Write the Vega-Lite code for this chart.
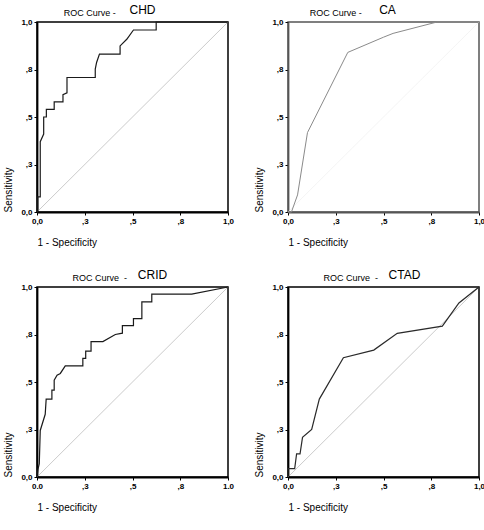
{
"$schema": "https://vega.github.io/schema/vega-lite/v6.json",
"padding": {"left": 3, "top": 3, "right": 5, "bottom": 5},
"background": "white",
"datasets": {
"diag": [{"i":0,"fpr":0,"sens":0},{"i":1,"fpr":1,"sens":1}],
"chd": [{"i":0,"fpr":0,"sens":0},{"i":1,"fpr":0.004,"sens":0.0},{"i":2,"fpr":0.004,"sens":0.08},{"i":3,"fpr":0.017,"sens":0.08},{"i":4,"fpr":0.017,"sens":0.37},{"i":5,"fpr":0.035,"sens":0.41},{"i":6,"fpr":0.035,"sens":0.5},{"i":7,"fpr":0.049,"sens":0.5},{"i":8,"fpr":0.049,"sens":0.54},{"i":9,"fpr":0.09,"sens":0.54},{"i":10,"fpr":0.09,"sens":0.58},{"i":11,"fpr":0.136,"sens":0.58},{"i":12,"fpr":0.136,"sens":0.618},{"i":13,"fpr":0.157,"sens":0.627},{"i":14,"fpr":0.157,"sens":0.708},{"i":15,"fpr":0.305,"sens":0.708},{"i":16,"fpr":0.305,"sens":0.752},{"i":17,"fpr":0.312,"sens":0.787},{"i":18,"fpr":0.327,"sens":0.831},{"i":19,"fpr":0.435,"sens":0.831},{"i":20,"fpr":0.435,"sens":0.874},{"i":21,"fpr":0.47,"sens":0.909},{"i":22,"fpr":0.505,"sens":0.958},{"i":23,"fpr":0.624,"sens":0.958},{"i":24,"fpr":0.624,"sens":1},{"i":25,"fpr":1,"sens":1}],
"ca": [{"i":0,"fpr":0,"sens":0},{"i":1,"fpr":0.018,"sens":0},{"i":2,"fpr":0.05,"sens":0.09},{"i":3,"fpr":0.102,"sens":0.418},{"i":4,"fpr":0.313,"sens":0.84},{"i":5,"fpr":0.5,"sens":0.92},{"i":6,"fpr":0.55,"sens":0.94},{"i":7,"fpr":0.78,"sens":1},{"i":8,"fpr":1,"sens":1}],
"crid": [{"i":0,"fpr":0,"sens":0},{"i":1,"fpr":0.005,"sens":0.04},{"i":2,"fpr":0.012,"sens":0.07},{"i":3,"fpr":0.017,"sens":0.245},{"i":4,"fpr":0.043,"sens":0.33},{"i":5,"fpr":0.048,"sens":0.41},{"i":6,"fpr":0.078,"sens":0.41},{"i":7,"fpr":0.078,"sens":0.457},{"i":8,"fpr":0.09,"sens":0.457},{"i":9,"fpr":0.09,"sens":0.51},{"i":10,"fpr":0.105,"sens":0.536},{"i":11,"fpr":0.122,"sens":0.545},{"i":12,"fpr":0.148,"sens":0.585},{"i":13,"fpr":0.24,"sens":0.585},{"i":14,"fpr":0.24,"sens":0.624},{"i":15,"fpr":0.255,"sens":0.624},{"i":16,"fpr":0.255,"sens":0.663},{"i":17,"fpr":0.283,"sens":0.663},{"i":18,"fpr":0.283,"sens":0.713},{"i":19,"fpr":0.345,"sens":0.713},{"i":20,"fpr":0.41,"sens":0.75},{"i":21,"fpr":0.447,"sens":0.757},{"i":22,"fpr":0.447,"sens":0.797},{"i":23,"fpr":0.505,"sens":0.797},{"i":24,"fpr":0.505,"sens":0.834},{"i":25,"fpr":0.549,"sens":0.834},{"i":26,"fpr":0.549,"sens":0.922},{"i":27,"fpr":0.601,"sens":0.922},{"i":28,"fpr":0.601,"sens":0.963},{"i":29,"fpr":0.81,"sens":0.963},{"i":30,"fpr":1,"sens":1}],
"ctad": [{"i":0,"fpr":0,"sens":0},{"i":1,"fpr":0,"sens":0.044},{"i":2,"fpr":0.035,"sens":0.044},{"i":3,"fpr":0.045,"sens":0.122},{"i":4,"fpr":0.063,"sens":0.122},{"i":5,"fpr":0.076,"sens":0.209},{"i":6,"fpr":0.124,"sens":0.25},{"i":7,"fpr":0.164,"sens":0.41},{"i":8,"fpr":0.29,"sens":0.628},{"i":9,"fpr":0.449,"sens":0.668},{"i":10,"fpr":0.572,"sens":0.756},{"i":11,"fpr":0.808,"sens":0.794},{"i":12,"fpr":0.895,"sens":0.916},{"i":13,"fpr":1,"sens":1}]
},
"spacing": 20,
"vconcat": [
{"hconcat": [
 {"title": {"text": "ROC Curve -", "fontSize": 9, "dx": -29, "offset": -15},
  "vconcat": [{
   "title": {"text": "CHD", "fontSize": 12, "dx": 10, "offset": 1},
   "width": 191, "height": 190,
   "encoding": {
    "x": {"field": "fpr", "type": "quantitative", "scale": {"domain": [0, 1]}, "axis": {"title": "1 - Specificity", "values": [0, 0.25, 0.5, 0.75, 1], "labelExpr": "datum.value == 0 ? '0,0' : datum.value == 1 ? '1,0' : datum.value == 0.5 ? ',5' : datum.value < 0.5 ? ',3' : ',8'"}},
    "y": {"field": "sens", "type": "quantitative", "scale": {"domain": [0, 1]}, "axis": {"title": "Sensitivity", "values": [0, 0.25, 0.5, 0.75, 1], "labelExpr": "datum.value == 0 ? '0,0' : datum.value == 1 ? '1,0' : datum.value == 0.5 ? ',5' : datum.value < 0.5 ? ',3' : ',8'"}},
    "order": {"field": "i", "type": "quantitative"}
   },
   "layer": [
    {"data": {"name": "diag"}, "mark": {"type": "line", "color": "#a8a8a8", "strokeWidth": 0.6}},
    {"data": {"name": "chd"}, "mark": {"type": "line", "color": "#1a1a1a", "strokeWidth": 1.2}}
   ]
  }]
 },
 {"title": {"text": "ROC Curve -", "fontSize": 9, "dx": -34, "offset": -15},
  "vconcat": [{
   "title": {"text": "CA", "fontSize": 12, "dx": 4, "offset": 1},
   "width": 191, "height": 190,
   "view": {"stroke": "#555"},
   "encoding": {
    "x": {"field": "fpr", "type": "quantitative", "scale": {"domain": [0, 1]}, "axis": {"title": "1 - Specificity", "values": [0, 0.25, 0.5, 0.75, 1], "domainColor": "#555", "labelExpr": "datum.value == 0 ? '0,0' : datum.value == 1 ? '1,0' : datum.value == 0.5 ? ',5' : datum.value < 0.5 ? ',3' : ',8'"}},
    "y": {"field": "sens", "type": "quantitative", "scale": {"domain": [0, 1]}, "axis": {"title": "Sensitivity", "values": [0, 0.25, 0.5, 0.75, 1], "domainColor": "#555", "labelExpr": "datum.value == 0 ? '0,0' : datum.value == 1 ? '1,0' : datum.value == 0.5 ? ',5' : datum.value < 0.5 ? ',3' : ',8'"}},
    "order": {"field": "i", "type": "quantitative"}
   },
   "layer": [
    {"data": {"name": "diag"}, "mark": {"type": "line", "color": "#ececec", "strokeWidth": 0.6}},
    {"data": {"name": "ca"}, "mark": {"type": "line", "color": "#8a8a8a", "strokeWidth": 1}}
   ]
  }]
 }
], "spacing": 19},
{"hconcat": [
 {"title": {"text": "ROC Curve \u00a0-", "fontSize": 9, "dx": -19, "offset": -15},
  "vconcat": [{
   "title": {"text": "CRID", "fontSize": 12, "dx": 20, "offset": 1},
   "width": 191, "height": 190,
   "encoding": {
    "x": {"field": "fpr", "type": "quantitative", "scale": {"domain": [0, 1]}, "axis": {"title": "1 - Specificity", "values": [0, 0.25, 0.5, 0.75, 1], "labelExpr": "datum.value == 0 ? '0.0' : datum.value == 1 ? '1.0' : datum.value == 0.5 ? ',5' : datum.value < 0.5 ? ',3' : ',8'"}},
    "y": {"field": "sens", "type": "quantitative", "scale": {"domain": [0, 1]}, "axis": {"title": "Sensitivity", "values": [0, 0.25, 0.5, 0.75, 1], "labelExpr": "datum.value == 0 ? '0,0' : datum.value == 1 ? '1,0' : datum.value == 0.5 ? ',5' : datum.value < 0.5 ? ',3' : ',8'"}},
    "order": {"field": "i", "type": "quantitative"}
   },
   "layer": [
    {"data": {"name": "diag"}, "mark": {"type": "line", "color": "#a8a8a8", "strokeWidth": 0.6}},
    {"data": {"name": "crid"}, "mark": {"type": "line", "color": "#1a1a1a", "strokeWidth": 1.2}}
   ]
  }]
 },
 {"title": {"text": "ROC Curve \u00a0-", "fontSize": 9, "dx": -19, "offset": -15},
  "vconcat": [{
   "title": {"text": "CTAD", "fontSize": 12, "dx": 21, "offset": 1},
   "width": 191, "height": 190,
   "encoding": {
    "x": {"field": "fpr", "type": "quantitative", "scale": {"domain": [0, 1]}, "axis": {"title": "1 - Specificity", "values": [0, 0.25, 0.5, 0.75, 1], "labelExpr": "datum.value == 0 ? '0,0' : datum.value == 1 ? '1,0' : datum.value == 0.5 ? ',5' : datum.value < 0.5 ? ',3' : ',8'"}},
    "y": {"field": "sens", "type": "quantitative", "scale": {"domain": [0, 1]}, "axis": {"title": "Sensitivity", "values": [0, 0.25, 0.5, 0.75, 1], "labelExpr": "datum.value == 0 ? '0,0' : datum.value == 1 ? '1,0' : datum.value == 0.5 ? ',5' : datum.value < 0.5 ? ',3' : ',8'"}},
    "order": {"field": "i", "type": "quantitative"}
   },
   "layer": [
    {"data": {"name": "diag"}, "mark": {"type": "line", "color": "#a8a8a8", "strokeWidth": 0.6}},
    {"data": {"name": "ctad"}, "mark": {"type": "line", "color": "#2a2a2a", "strokeWidth": 1.2}}
   ]
  }]
 }
], "spacing": 19}
],
"config": {
 "font": "Liberation Sans",
 "view": {"stroke": "#000", "strokeWidth": 1.5},
 "title": {"font": "Liberation Sans", "fontWeight": "normal", "color": "#000", "anchor": "middle"},
 "axis": {"labelFont": "Liberation Sans", "labelFontSize": 8, "labelColor": "#000", "labelFontWeight": "bold", "titleFont": "Liberation Sans", "titleFontSize": 10, "titleFontWeight": "normal", "titleColor": "#000", "grid": false, "domainColor": "#000", "domainWidth": 1.8, "tickColor": "#000", "tickSize": 3, "labelPadding": 2, "labelFlush": false, "labelOverlap": false},
 "axisX": {"titleAnchor": "start", "titlePadding": 12},
 "axisY": {"titleAnchor": "start", "titlePadding": 7}
}
}
